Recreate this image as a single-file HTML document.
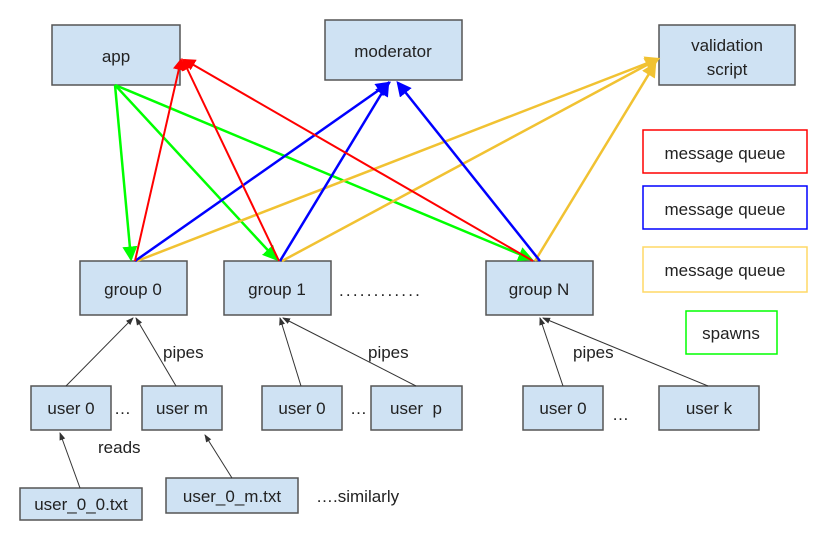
<!DOCTYPE html>
<html><head><meta charset="utf-8"><style>
html,body{margin:0;padding:0;background:#fff;}
svg text{font-family:"Liberation Sans",Arial,sans-serif;fill:#222;white-space:pre;}
</style></head><body>
<svg width="819" height="531" viewBox="0 0 819 531" xmlns="http://www.w3.org/2000/svg">
<defs>
<marker id="mr" markerWidth="6" markerHeight="6" refX="5" refY="3" orient="auto" markerUnits="strokeWidth"><path d="M0,0 L6,3 L0,6 z" fill="#f00"/></marker>
<marker id="mb" markerWidth="6" markerHeight="6" refX="5" refY="3" orient="auto" markerUnits="strokeWidth"><path d="M0,0 L6,3 L0,6 z" fill="#00f"/></marker>
<marker id="my" markerWidth="6" markerHeight="6" refX="5" refY="3" orient="auto" markerUnits="strokeWidth"><path d="M0,0 L6,3 L0,6 z" fill="#f1c232"/></marker>
<marker id="mg" markerWidth="6" markerHeight="6" refX="5" refY="3" orient="auto" markerUnits="strokeWidth"><path d="M0,0 L6,3 L0,6 z" fill="#0f0"/></marker>
<marker id="mk" markerWidth="8" markerHeight="8" refX="7" refY="4" orient="auto" markerUnits="strokeWidth"><path d="M0,1 L8,4 L0,7 z" fill="#333"/></marker>
</defs>
<g fill="#cfe2f3" stroke="#555" stroke-width="1.5">
<rect x="52" y="25" width="128" height="60"/>
<rect x="325" y="20" width="137" height="60"/>
<rect x="659" y="25" width="136" height="60"/>
<rect x="80" y="261" width="107" height="54"/>
<rect x="224" y="261" width="107" height="54"/>
<rect x="486" y="261" width="107" height="54"/>
<rect x="31" y="386" width="80" height="44"/>
<rect x="142" y="386" width="80" height="44"/>
<rect x="262" y="386" width="80" height="44"/>
<rect x="371" y="386" width="91" height="44"/>
<rect x="523" y="386" width="80" height="44"/>
<rect x="659" y="386" width="100" height="44"/>
<rect x="20" y="488" width="122" height="32"/>
<rect x="166" y="478" width="132" height="35"/>
</g>
<g fill="none" stroke-width="1.5">
<rect x="643" y="130" width="164" height="43" stroke="#f00"/>
<rect x="643" y="186" width="164" height="43" stroke="#00f"/>
<rect x="643" y="247" width="164" height="45" stroke="#ffd966"/>
<rect x="686" y="311" width="91" height="43" stroke="#0f0"/>
</g>
<g stroke="#333" stroke-width="1">
<line x1="66" y1="386" x2="133" y2="318" marker-end="url(#mk)"/>
<line x1="176" y1="386" x2="136" y2="318" marker-end="url(#mk)"/>
<line x1="301" y1="386" x2="280" y2="318" marker-end="url(#mk)"/>
<line x1="416" y1="386" x2="283" y2="318" marker-end="url(#mk)"/>
<line x1="563" y1="386" x2="540" y2="318" marker-end="url(#mk)"/>
<line x1="708" y1="386" x2="543" y2="318" marker-end="url(#mk)"/>
<line x1="80" y1="488" x2="60" y2="433" marker-end="url(#mk)"/>
<line x1="232" y1="478" x2="205" y2="435" marker-end="url(#mk)"/>
</g>
<g stroke-width="2.5" fill="none">
<line x1="115" y1="85" x2="131" y2="259" stroke="#0f0" marker-end="url(#mg)"/>
<line x1="115" y1="85" x2="276" y2="259" stroke="#0f0" marker-end="url(#mg)"/>
<line x1="115" y1="85" x2="531" y2="259" stroke="#0f0" marker-end="url(#mg)"/>
<line x1="137" y1="261" x2="658" y2="59" stroke="#f1c232" marker-end="url(#my)"/>
<line x1="282" y1="261" x2="658" y2="59" stroke="#f1c232" marker-end="url(#my)"/>
<line x1="535" y1="261" x2="655" y2="64" stroke="#f1c232" marker-end="url(#my)"/>
<line x1="135" y1="261" x2="389" y2="83" stroke="#00f" marker-end="url(#mb)"/>
<line x1="280" y1="261" x2="388" y2="83" stroke="#00f" marker-end="url(#mb)"/>
<line x1="540" y1="261" x2="398" y2="83" stroke="#00f" marker-end="url(#mb)"/>
</g>
<g stroke="#f00" stroke-width="2" fill="none">
<line x1="135" y1="261" x2="181" y2="60" marker-end="url(#mr)"/>
<line x1="279" y1="261" x2="183" y2="60" marker-end="url(#mr)"/>
<line x1="533" y1="261" x2="185" y2="60" marker-end="url(#mr)"/>
</g>
<g font-size="17" text-anchor="middle">
<text x="116" y="62">app</text>
<text x="393" y="57">moderator</text>
<text x="727" y="51">validation</text>
<text x="727" y="75">script</text>
<text x="133" y="295">group 0</text>
<text x="277" y="295">group 1</text>
<text x="539" y="295">group N</text>
<text x="71" y="414">user 0</text>
<text x="182" y="414">user m</text>
<text x="302" y="414">user 0</text>
<text x="416" y="414">user  p</text>
<text x="563" y="414">user 0</text>
<text x="709" y="414">user k</text>
<text x="81" y="510">user_0_0.txt</text>
<text x="232" y="502">user_0_m.txt</text>
<text x="725" y="159">message queue</text>
<text x="725" y="215">message queue</text>
<text x="725" y="276">message queue</text>
<text x="731" y="339">spawns</text>
</g>
<g font-size="17">
<text x="163" y="358">pipes</text>
<text x="368" y="358">pipes</text>
<text x="573" y="358">pipes</text>
<text x="98" y="453">reads</text>
<text x="316" y="502">….similarly</text>
<text x="114" y="414">…</text>
<text x="350" y="414">…</text>
<text x="612" y="420">…</text>
<text x="339" y="296" letter-spacing="2.2">............</text>
</g>
</svg>
</body></html>
